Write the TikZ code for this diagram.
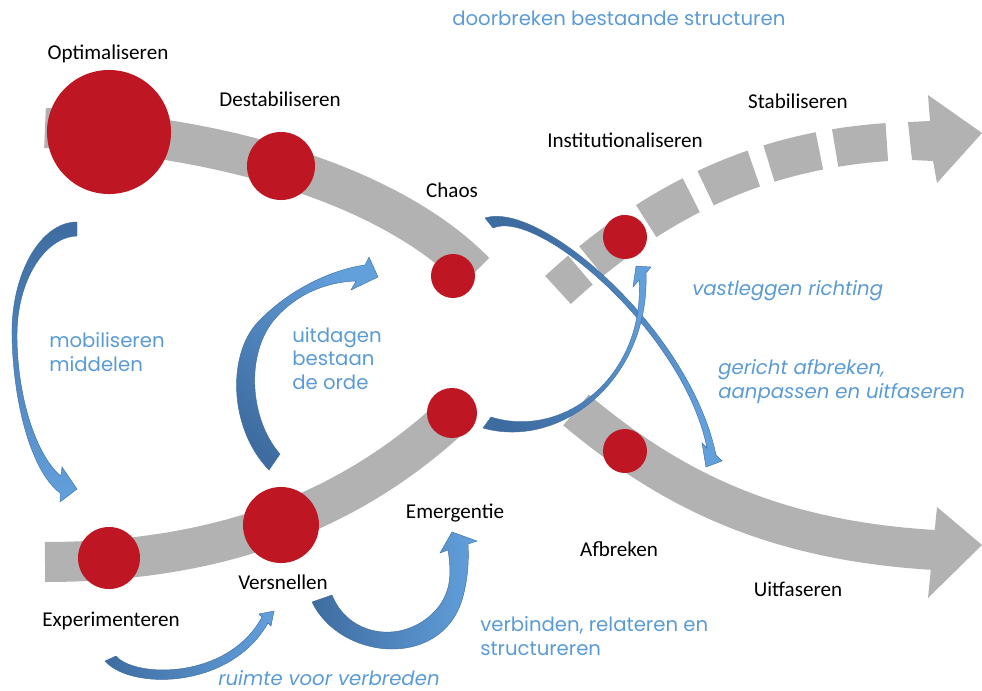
\documentclass[tikz,border=0pt]{standalone}
\usepackage{fontspec}
\setmainfont{Carlito}
\newfontfamily\bluefont{Poppins}
\usetikzlibrary{positioning}

\definecolor{bandgray}{RGB}{178,178,178}
\definecolor{dotred}{RGB}{190,22,34}
\definecolor{flowdark}{RGB}{62,108,160}
\definecolor{flowlight}{RGB}{98,160,220}
\definecolor{textblue}{RGB}{91,155,213}

\begin{document}
\begin{tikzpicture}[
        x=0.025cm, y=-0.025cm,
        every node/.style={inner sep=0pt},
        stage/.style={font=\fontsize{15}{18}\selectfont, anchor=base},
        note/.style={font=\bluefont\fontsize{14}{16.7}\selectfont, text=textblue, anchor=base west, align=left},
        noteit/.style={note, font=\bluefont\itshape\fontsize{14}{16.7}\selectfont},
        band/.style={draw=bandgray, line width=1cm},
        reddot/.style={circle, fill=dotred, minimum size=#1*0.05cm},
        flow/.style={draw=flowdark, line width=0.3pt, top color=flowlight, bottom color=flowdark}
    ]
    \useasboundingbox (0,0) rectangle (982,691);

    % Bands
    \draw[band] (45,128) .. controls (220,135) and (390,185) .. (475,272);
    \draw[band] (45,562) .. controls (230,562) and (360,505) .. (460,409);
    \draw[band] (576,410) .. controls (660,480) and (760,540) .. (935,550);
    \fill[bandgray] (937,507) -- (982,545) -- (928,598) -- cycle;
    \draw[band, line width=0.95cm, dash pattern={on 0.75cm off 0.35cm on 1.3cm off 0.4cm on 1.3cm off 0.4cm on 1.3cm off 0.4cm on 1.3cm off 0.4cm on 1.3cm off 3cm}]
        (558,290) .. controls (650,205) and (760,145) .. (910,141);
    \fill[bandgray] (908,122) -- (930,121) -- (928,95) -- (982,133) -- (937,183) -- (933,161) -- (912,160) -- cycle;

    % Phases
    \node[reddot=62] (optimal) at (109,132) {};
    \node[reddot=34] (destab) at (281,166) {};
    \node[reddot=22] (chaos) at (453,276) {};
    \node[reddot=25] (emerge) at (452,413) {};
    \node[reddot=38] (speedup) at (281,525) {};
    \node[reddot=31] (experiment) at (109,558) {};
    \node[reddot=22] (institute) at (625,237) {};
    \node[reddot=22] (breakdown) at (625,451) {};

    % Curved arrows
    \path[flow, shading angle=180] (77,222) .. controls (40,222) and (11,275) .. (12,335)
        .. controls (13,400) and (30,470) .. (60,493) -- (60,502) -- (77,489) -- (62,467) -- (61,476)
        .. controls (38,458) and (17,400) .. (17,335) .. controls (17,280) and (45,237) .. (77,236) -- cycle;
    \path[flow, shading angle=-45] (269,470) .. controls (228,428) and (226,350) .. (262,318)
        .. controls (290,290) and (330,270) .. (365,265) -- (369,257) -- (378,277) -- (351,290) -- (356,281)
        .. controls (325,282) and (295,295) .. (274,320) .. controls (245,355) and (250,420) .. (280,454) -- cycle;
    \path[flow, shading angle=-135] (485,218) .. controls (540,200) and (690,330) .. (716,455)
        -- (722,461) -- (706,467) -- (702,443) -- (707,448)
        .. controls (684,333) and (538,208) .. (493,228) -- cycle;
    \path[flow, shading angle=-45] (483,428) .. controls (560,450) and (650,380) .. (646,273)
        -- (651,267) -- (636,266) -- (633,287) -- (639,280)
        .. controls (645,375) and (565,440) .. (491,417) -- cycle;
    \path[flow, shading angle=-90] (105,661) .. controls (130,690) and (230,690) .. (268,623)
        -- (271,626) -- (274,611) -- (259,614) -- (262,617)
        .. controls (228,680) and (135,678) .. (116,656) -- cycle;
    \path[flow, shading angle=-90] (312,602) .. controls (340,660) and (440,670) .. (462,600)
        .. controls (468,580) and (469,560) .. (468,544) -- (477,541) -- (452,532) -- (440,553) -- (448,550)
        .. controls (452,575) and (450,590) .. (440,605) .. controls (410,645) and (350,640) .. (332,595) -- cycle;

    % Phase labels
    \node[stage] (lbloptimal) at (108,59) {Optimaliseren};
    \node[stage] (lbldestab) at (280,106) {Destabiliseren};
    \node[stage] (lblchaos) at (452,197) {Chaos};
    \node[stage] (lblinstitute) at (625,147) {Institutionaliseren};
    \node[stage] (lblstable) at (798,108) {Stabiliseren};
    \node[stage] (lblemerge) at (455,518) {Emergentie};
    \node[stage] (lblspeedup) at (283,589) {Versnellen};
    \node[stage] (lblexperiment) at (111,626) {Experimenteren};
    \node[stage] (lblbreakdown) at (619,556) {Afbreken};
    \node[stage] (lblphaseout) at (798,596) {Uitfaseren};

    % Transition notes (base = last line)
    \node[note] (breakthrough) at (452,25) {doorbreken bestaande structuren};
    \node[note] (mobilise) at (49,371) {mobiliseren\\middelen};
    \node[note] (challenge) at (292,389) {uitdagen\\bestaan\\de orde};
    \node[noteit] (fixdirection) at (692,295) {vastleggen richting};
    \node[noteit] (directed) at (718,398) {gericht afbreken,\\aanpassen en uitfaseren};
    \node[note] (connect) at (480,655) {verbinden, relateren en\\structureren};
    \node[noteit] (widen) at (218,685) {ruimte voor verbreden};

\end{tikzpicture}
\end{document}
